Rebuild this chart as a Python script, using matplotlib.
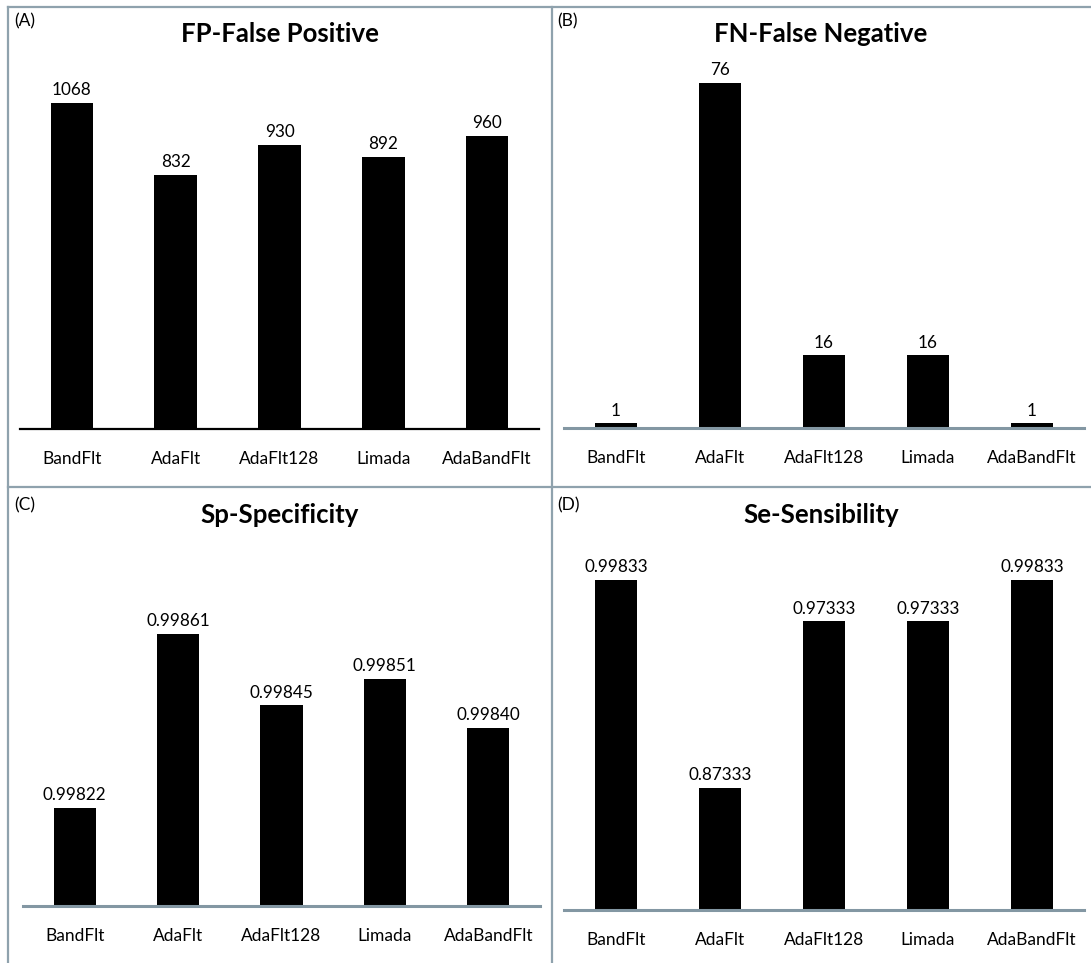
import matplotlib
matplotlib.use("Agg")
import matplotlib.pyplot as plt
from matplotlib.lines import Line2D

plt.rcParams["font.family"] = ["Lato", "DejaVu Sans"]

methods = ["BandFlt", "AdaFlt", "AdaFlt128", "Limada", "AdaBandFlt"]
fp_values = [1068, 832, 930, 892, 960]
fn_values = [1, 76, 16, 16, 1]
sp_values = [0.99822, 0.99861, 0.99845, 0.99851, 0.99840]
se_values = [0.99833, 0.87333, 0.97333, 0.97333, 0.99833]

fp_labels = ["1068", "832", "930", "892", "960"]
fn_labels = ["1", "76", "16", "16", "1"]
sp_labels = ["0.99822", "0.99861", "0.99845", "0.99851", "0.99840"]
se_labels = ["0.99833", "0.87333", "0.97333", "0.97333", "0.99833"]

W, H = 1091, 963
fig = plt.figure(figsize=(W / 100, H / 100), dpi=100)

FRAME = "#8fa2ad"
AXIS_GREY = "#8397a3"


def add_panel(x0, x1, y_top, y_base, values, labels, ylim, title, tag,
              title_xy, tag_xy, axis_color, axis_lw):
    ax = fig.add_axes([x0 / W, 1 - y_base / H, (x1 - x0) / W, (y_base - y_top) / H])
    pos = list(range(len(methods)))
    ax.bar(pos, values, width=0.41, color="black", zorder=2, bottom=0)
    ax.set_xlim(-0.5, len(methods) - 0.5)
    ax.set_ylim(*ylim)
    for p, v, lab in zip(pos, values, labels):
        ax.annotate(lab, (p, v), xytext=(0, 3.5), textcoords="offset points",
                    ha="center", va="bottom", fontsize=12.3, color="black",
                    annotation_clip=False)
    for s in ("top", "left", "right"):
        ax.spines[s].set_visible(False)
    ax.spines["bottom"].set_color(axis_color)
    ax.spines["bottom"].set_linewidth(axis_lw)
    ax.spines["bottom"].set_zorder(3)
    ax.set_yticks([])
    ax.set_xticks(pos)
    ax.set_xticklabels(methods, fontsize=12.5)
    ax.tick_params(axis="x", length=0, pad=16)
    ax.patch.set_alpha(0)
    fig.text(title_xy[0] / W, 1 - title_xy[1] / H, title, ha="center", va="center",
             fontsize=18.5, fontweight="bold")
    fig.text(tag_xy[0] / W, 1 - tag_xy[1] / H, tag, ha="left", va="center",
             fontsize=12.5)
    return ax


# (A) false positives: 1200 at the top of the plot area
add_panel(20, 539, 63, 429, fp_values, fp_labels, (0, 1200),
          "FP-False Positive", "(A)", (280, 34), (14, 21), "black", 1.6)
# (B) false negatives
add_panel(564, 1084, 65, 428, fn_values, fn_labels, (0, 80),
          "FN-False Negative", "(B)", (821, 34), (557, 21), AXIS_GREY, 2.2)
# (C) specificity
add_panel(23, 540, 545, 906, sp_values, sp_labels, (0.998, 0.99881),
          "Sp-Specificity", "(C)", (280, 515), (14, 505), AXIS_GREY, 2.2)
# (D) sensibility
add_panel(564, 1084, 577, 910, se_values, se_labels, (0.8, 1.0),
          "Se-Sensibility", "(D)", (821, 515), (557, 505), AXIS_GREY, 2.2)

# panel frame lines
for xs, ys in [((8, W), (7, 7)), ((8, 8), (7, H)), ((552, 552), (7, H)), ((8, W), (487, 487))]:
    fig.add_artist(Line2D([x / W for x in xs], [1 - y / H for y in ys],
                          color=FRAME, lw=1.6, transform=fig.transFigure))

fig.savefig("out.png", dpi=100, facecolor="white")
